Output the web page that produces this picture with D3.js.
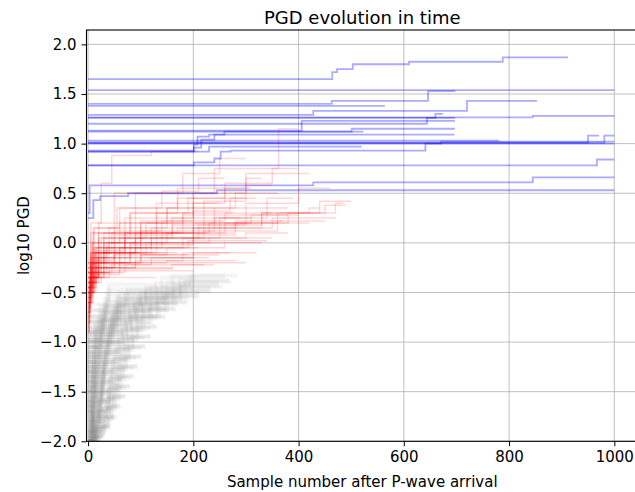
<!DOCTYPE html>
<html>
<head>
<meta charset="utf-8">
<script src="https://cdn.jsdelivr.net/npm/d3@7"></script>
<style>
  body { margin: 0; background: #fff; }
  text { font-family: "DejaVu Sans", sans-serif; fill: #000; }
</style>
</head>
<body>
<div id="chart"></div>
<script>
// each trace: [endSample, startValue, x1, y1, x2, y2, ...]
// starts at (0, startValue), steps to y_i at x_i, runs flat to endSample
var grayTraces = [
  [30,-2.4,4,-2.1,15,-1.95], [26,-2.2,8,-2.0,18,-1.96], [20,-2.3,6,-1.98], [14,-2.1,5,-1.97], [32,-2.5,3,-2.2,10,-2.02,22,-1.94],
  [42,-2.3,5,-2.05,18,-1.92,30,-1.85], [36,-2.2,10,-1.95,24,-1.86], [28,-2.4,4,-2.0,15,-1.87], [18,-2.1,7,-1.88], [40,-2.0,12,-1.9,28,-1.84],
  [55,-2.3,6,-2.0,20,-1.85,38,-1.75], [48,-2.1,10,-1.9,30,-1.76], [38,-2.0,15,-1.8,25,-1.74], [26,-1.95,8,-1.77], [52,-2.5,3,-2.1,14,-1.88,34,-1.76],
  [64,-2.2,8,-1.95,25,-1.78,45,-1.65], [57,-2.0,15,-1.8,35,-1.66], [45,-2.4,4,-2.0,12,-1.8,28,-1.67], [30,-1.9,10,-1.68], [60,-2.1,12,-1.85,40,-1.64],
  [72,-2.1,10,-1.85,30,-1.68,50,-1.55], [65,-1.95,18,-1.7,40,-1.56], [52,-2.3,5,-1.9,20,-1.7,35,-1.57], [36,-1.85,12,-1.58], [70,-2.0,14,-1.75,44,-1.54],
  [80,-2.0,12,-1.75,35,-1.58,58,-1.45], [72,-1.9,20,-1.6,45,-1.46], [58,-2.2,6,-1.8,22,-1.6,40,-1.47], [40,-1.75,14,-1.48], [78,-2.4,4,-1.95,18,-1.65,50,-1.44],
  [88,-1.95,10,-1.7,38,-1.48,62,-1.35], [80,-1.8,22,-1.52,50,-1.36], [64,-2.1,8,-1.72,26,-1.5,45,-1.37], [44,-1.65,15,-1.38], [86,-2.2,5,-1.85,20,-1.55,55,-1.34],
  [95,-1.85,12,-1.6,40,-1.38,68,-1.25], [86,-1.7,24,-1.42,55,-1.26], [70,-2.0,8,-1.62,28,-1.4,48,-1.27], [48,-1.55,16,-1.28], [93,-2.1,6,-1.75,22,-1.45,60,-1.24],
  [102,-1.75,14,-1.5,42,-1.28,72,-1.15], [92,-1.6,26,-1.32,58,-1.16], [75,-1.9,9,-1.52,30,-1.3,52,-1.17], [52,-1.45,18,-1.18], [100,-2.0,6,-1.65,24,-1.35,64,-1.14],
  [110,-1.65,15,-1.4,45,-1.18,78,-1.05], [100,-1.5,28,-1.22,62,-1.06], [80,-1.8,10,-1.42,32,-1.2,56,-1.07], [56,-1.35,20,-1.08], [108,-1.9,7,-1.55,26,-1.25,70,-1.04],
  [120,-1.55,16,-1.3,48,-1.08,84,-0.95], [108,-1.4,30,-1.12,68,-0.96], [88,-1.7,10,-1.32,35,-1.1,60,-0.97], [60,-1.25,22,-0.98], [118,-1.8,8,-1.45,28,-1.15,76,-0.94],
  [132,-1.45,18,-1.2,52,-0.98,92,-0.85], [118,-1.3,32,-1.02,75,-0.86], [95,-1.6,12,-1.22,38,-1.0,66,-0.87], [66,-1.15,24,-0.88], [130,-1.7,8,-1.35,30,-1.05,85,-0.84],
  [148,-1.35,20,-1.1,58,-0.88,100,-0.75], [132,-1.2,35,-0.92,82,-0.76], [105,-1.5,12,-1.12,42,-0.9,72,-0.77], [72,-1.05,26,-0.78], [145,-1.6,9,-1.25,34,-0.95,95,-0.74],
  [168,-1.25,22,-1.0,65,-0.8,115,-0.67], [150,-1.1,38,-0.84,92,-0.68], [118,-1.4,14,-1.02,46,-0.82,80,-0.69], [80,-0.95,28,-0.7], [165,-1.5,10,-1.15,38,-0.88,105,-0.66],
  [190,-1.15,24,-0.92,72,-0.74,130,-0.6], [172,-1.0,42,-0.76,105,-0.61], [135,-1.3,15,-0.95,50,-0.75,90,-0.62], [92,-0.88,30,-0.63], [186,-1.4,10,-1.05,42,-0.8,120,-0.59],
  [212,-1.05,26,-0.84,80,-0.66,145,-0.54], [192,-0.92,45,-0.7,118,-0.55], [150,-1.2,16,-0.88,55,-0.68,100,-0.56], [102,-0.8,32,-0.57], [208,-1.3,11,-0.98,46,-0.74,135,-0.53],
  [235,-0.98,28,-0.78,88,-0.6,160,-0.49], [212,-0.86,48,-0.64,130,-0.5], [165,-1.12,18,-0.82,60,-0.62,110,-0.51], [112,-0.74,35,-0.52], [230,-1.2,12,-0.9,50,-0.68,150,-0.48],
  [255,-0.9,30,-0.72,95,-0.55,175,-0.44], [232,-0.8,52,-0.6,142,-0.45], [180,-1.05,20,-0.76,65,-0.57,120,-0.46], [122,-0.68,38,-0.47], [250,-1.1,13,-0.84,55,-0.62,165,-0.43],
  [272,-0.85,32,-0.66,100,-0.5,185,-0.39], [248,-0.74,55,-0.55,150,-0.4], [195,-0.98,22,-0.7,70,-0.52,130,-0.41], [130,-0.62,40,-0.42], [268,-1.0,14,-0.78,60,-0.56,175,-0.38],
  [285,-0.78,35,-0.6,110,-0.45,195,-0.33], [260,-0.68,58,-0.5,160,-0.34], [205,-0.9,24,-0.64,75,-0.47,140,-0.35],
  [10,-2.2,3,-1.6], [12,-1.9,4,-1.3], [8,-1.7,2,-1.1], [14,-1.5,5,-0.9], [10,-1.3,3,-0.75], [16,-2.1,6,-1.45,10,-1.2]
];

var redTraces = [
  [300,-0.6,5,-0.3,40,-0.22,120,-0.2], [280,-0.5,8,-0.25,60,-0.2,150,-0.18],
  [320,-0.7,4,-0.35,20,-0.25,90,-0.15,200,-0.1], [250,-0.45,10,-0.2,100,-0.12],
  [380,-0.8,3,-0.4,15,-0.2,70,-0.05,180,0.05,300,0.1], [420,-0.55,6,-0.15,50,0.0,150,0.1,280,0.2],
  [470,-0.65,5,-0.3,30,-0.1,120,0.05,250,0.15,350,0.25], [490,-0.5,12,-0.2,80,0.0,200,0.15,330,0.3,450,0.38],
  [200,-0.4,15,-0.25,60,-0.15], [230,-0.9,2,-0.5,10,-0.3,45,-0.2,120,-0.15],
  [350,-0.35,20,-0.1,110,0.0,230,0.05], [400,-0.45,8,-0.1,90,0.1,200,0.2,310,0.28],
  [300,-0.3,35,-0.05,140,0.1,220,0.2], [260,-0.6,6,-0.25,50,-0.1,130,0.0],
  [380,-0.25,25,0.05,100,0.2,240,0.35], [310,-0.2,10,0.1,80,0.3,170,0.45,260,0.55],
  [360,-0.5,4,-0.1,40,0.15,150,0.35,280,0.5], [240,-0.3,8,0.0,60,0.2,150,0.35],
  [330,-0.45,15,-0.05,70,0.25,200,0.5,300,0.65], [400,-0.35,30,0.1,130,0.4,260,0.6,350,0.75],
  [397,-0.2,20,0.2,90,0.5,240,0.75,362,1.15], [300,-0.4,5,0.1,50,0.5,180,0.7,250,0.85],
  [210,-0.3,5,0.2,25,0.6,45,0.88,120,0.92], [290,-0.5,10,-0.15,60,0.05,160,0.25],
  [440,-0.4,15,-0.1,90,0.05,210,0.18,330,0.3,420,0.35], [485,-0.6,6,-0.2,40,0.0,130,0.1,260,0.2,380,0.3,470,0.4],
  [270,-0.7,3,-0.4,25,-0.25,90,-0.18,180,-0.1], [220,-0.5,12,-0.3,70,-0.22],
  [340,-0.55,8,-0.2,60,-0.05,190,0.02], [210,-0.35,18,-0.15,90,-0.05],
  [160,-0.85,2,-0.45,12,-0.3,60,-0.25], [370,-0.3,12,-0.05,70,0.1,170,0.15,280,0.22],
  [250,-0.45,6,-0.1,45,0.1,130,0.3,200,0.4], [350,-0.6,4,-0.2,30,0.05,110,0.2,220,0.42,300,0.58],
  [300,-0.35,20,0.05,80,0.3,190,0.45], [420,-0.25,10,0.15,60,0.35,170,0.55,300,0.7],
  [460,-0.5,5,-0.1,70,0.1,180,0.28,300,0.4,400,0.55], [150,-0.5,8,-0.25,50,-0.1],
  [190,-0.65,4,-0.35,30,-0.2,100,-0.12], [330,-0.4,10,-0.18,50,-0.12,150,-0.05,260,0.0],
  [280,-0.75,3,-0.35,20,-0.15,80,-0.02,200,0.08], [230,-0.3,15,-0.08,70,0.05],
  [390,-0.45,10,-0.05,120,0.15,250,0.25,340,0.45], [260,-0.2,12,0.15,55,0.35,140,0.52,210,0.65],
  [310,-0.55,5,-0.15,35,0.0,100,0.12,240,0.25], [200,-0.9,2,-0.6,8,-0.35,40,-0.28],
  [240,-0.6,10,-0.32,60,-0.26,160,-0.22], [170,-0.4,20,-0.2,80,-0.1],
  [350,-0.3,8,0.0,50,0.12,140,0.22,260,0.3], [275,-0.5,6,-0.2,30,0.0,90,0.2,180,0.3],
  [450,-0.7,4,-0.3,25,-0.1,100,0.05,220,0.12,360,0.22], [320,-0.25,20,0.1,100,0.22,200,0.32,270,0.45],
  [130,-0.8,3,-0.5,15,-0.35], [380,-0.4,12,-0.1,50,0.08,160,0.18,300,0.28],
  [500,-0.35,15,-0.05,100,0.1,230,0.2,360,0.3,440,0.42]
];

var blueTraces = [
  [912,1.65,464,1.72,473,1.75,503,1.80,610,1.825,788,1.87],
  [1000,1.54],
  [698,1.40,463,1.43,646,1.53],
  [564,1.38],
  [853,1.29,428,1.33,720,1.43],
  [1000,1.265,845,1.28],
  [697,1.26],
  [697,1.13,406,1.23],
  [697,1.12,501,1.15],
  [674,1.20,644,1.26,660,1.30],
  [523,0.93,201,0.99,208,1.07,230,1.09,259,1.12],
  [696,0.92,201,0.96,215,1.04,240,1.09],
  [520,0.92,230,0.97],
  [971,1.01,950,1.08],
  [1000,1.01,981,1.08],
  [1000,1.00],
  [781,1.03],
  [1000,0.78,201,0.81,240,0.85,252,0.92,271,0.93,641,1.00,671,1.02],
  [1000,0.78,967,0.84],
  [1000,0.25,10,0.43,23,0.47,76,0.50,245,0.53],
  [1000,0.30,3,0.58,428,0.61,845,0.66]
];

var xTicks = [0, 200, 400, 600, 800, 1000];
var yTicks = [-2.0, -1.5, -1.0, -0.5, 0.0, 0.5, 1.0, 1.5, 2.0];

var width = 635, height = 492;
var plotLeft = 86.5, plotRight = 638, plotTop = 30, plotBottom = 441.3;

var svg = d3.select("#chart")
    .append("svg")
    .attr("width", width)
    .attr("height", height);

var x = d3.scaleLinear().domain([-3, 1045]).range([plotLeft, plotRight]);
var y = d3.scaleLinear().domain([-2, 2.145]).range([plotBottom, plotTop]);

svg.append("clipPath").attr("id", "clip")
    .append("rect")
    .attr("x", plotLeft).attr("y", plotTop)
    .attr("width", plotRight - plotLeft).attr("height", plotBottom - plotTop);

// grid
var grid = svg.append("g");
grid.selectAll(".gx").data(xTicks).enter().append("line")
    .attr("x1", d => x(d)).attr("x2", d => x(d))
    .attr("y1", plotTop).attr("y2", plotBottom)
    .attr("stroke", "#b0b0b0").attr("stroke-width", 0.8);
grid.selectAll(".gy").data(yTicks).enter().append("line")
    .attr("x1", plotLeft).attr("x2", plotRight)
    .attr("y1", d => y(d)).attr("y2", d => y(d))
    .attr("stroke", "#b0b0b0").attr("stroke-width", 0.8);

function toPoints(t)
{
    var pts = [[0, t[1]]];
    for (var i = 2; i + 1 < t.length; i += 2)
        pts.push([t[i], t[i + 1]]);
    pts.push([t[0], pts[pts.length - 1][1]]);
    return pts;
}

var line = d3.line()
    .x(d => x(d[0]))
    .y(d => y(d[1]))
    .curve(d3.curveStepAfter);

var plot = svg.append("g").attr("clip-path", "url(#clip)");

function drawTraces(data, color, alpha, w)
{
    plot.append("g")
        .selectAll("path")
        .data(data)
        .enter()
        .append("path")
        .attr("d", d => line(toPoints(d)))
        .attr("fill", "none")
        .attr("stroke", color)
        .attr("stroke-opacity", alpha)
        .attr("stroke-width", w);
}

drawTraces(grayTraces, "#808080", 0.085, 4);
drawTraces(redTraces, "red", 0.16, 1.5);
drawTraces(blueTraces, "blue", 0.33, 1.8);

// axes
var xAxis = d3.axisBottom(x).tickValues(xTicks).tickSize(5).tickPadding(5)
    .tickFormat(d3.format("d"));
var yAxis = d3.axisLeft(y).tickValues(yTicks).tickSize(5).tickPadding(5)
    .tickFormat(d => d3.format(".1f")(d).replace("-", "\u2212"));

var gx = svg.append("g").attr("transform", "translate(0," + plotBottom + ")").call(xAxis);
var gy = svg.append("g").attr("transform", "translate(" + plotLeft + ",0)").call(yAxis);
[gx, gy].forEach(g => {
    g.select(".domain").remove();
    g.selectAll("line").attr("stroke", "#000").attr("stroke-width", 1);
    g.selectAll("text").attr("font-size", 15).attr("font-family", "DejaVu Sans");
});

// spines
svg.append("rect")
    .attr("x", plotLeft).attr("y", plotTop)
    .attr("width", plotRight - plotLeft).attr("height", plotBottom - plotTop)
    .attr("fill", "none").attr("stroke", "#000").attr("stroke-width", 1.1);

svg.append("text")
    .attr("x", (plotLeft + plotRight) / 2).attr("y", 24)
    .attr("text-anchor", "middle").attr("font-size", 18)
    .text("PGD evolution in time");

svg.append("text")
    .attr("x", (plotLeft + plotRight) / 2).attr("y", 487)
    .attr("text-anchor", "middle").attr("font-size", 15)
    .text("Sample number after P-wave arrival");

svg.append("text")
    .attr("transform", "translate(29," + ((plotTop + plotBottom) / 2) + ") rotate(-90)")
    .attr("text-anchor", "middle").attr("font-size", 15)
    .text("log10 PGD");
</script>
</body>
</html>
